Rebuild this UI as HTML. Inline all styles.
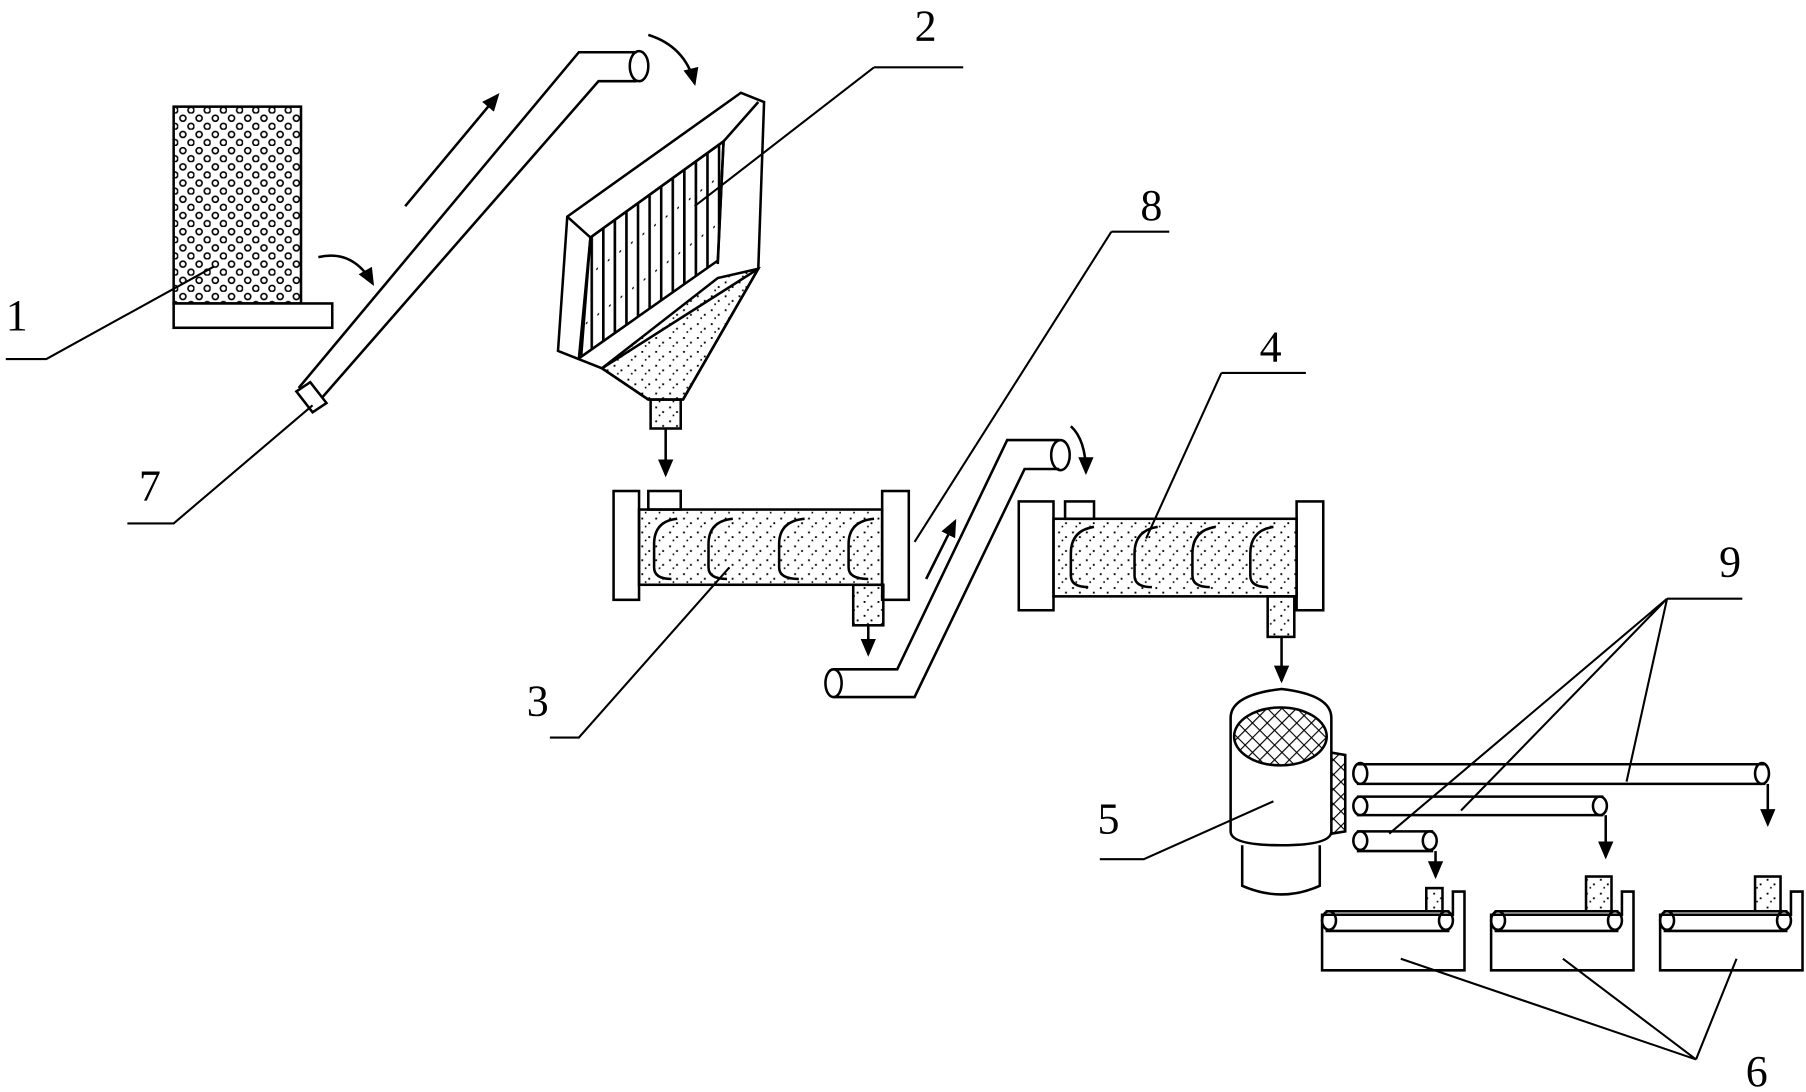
<!DOCTYPE html>
<html><head><meta charset="utf-8"><style>
html,body{margin:0;padding:0;background:#fff;width:1806px;height:1092px;overflow:hidden}
svg{display:block}
text{font-family:"Liberation Serif",serif;font-size:38px;fill:#000}
</style></head><body>
<svg width="1806" height="1092" viewBox="0 0 1560 943" xmlns="http://www.w3.org/2000/svg">
<defs>
<pattern id="dots" width="14" height="14" patternUnits="userSpaceOnUse">
<circle cx="4" cy="4" r="2.6" fill="none" stroke="#000" stroke-width="1.4"/>
<circle cx="11" cy="11" r="2.6" fill="none" stroke="#000" stroke-width="1.4"/>
</pattern>
<pattern id="sand" width="12" height="12" patternUnits="userSpaceOnUse">
<rect x="2" y="3" width="1.6" height="1.6"/><rect x="8" y="7" width="1.6" height="1.6"/><rect x="5" y="10" width="1.4" height="1.4"/>
</pattern>
<pattern id="mesh" width="9" height="9" patternUnits="userSpaceOnUse" patternTransform="rotate(45)">
<path d="M0 0H9M0 0V9" stroke="#000" stroke-width="2"/>
</pattern>
<pattern id="screen" width="10" height="200" patternUnits="userSpaceOnUse" patternTransform="skewY(-37)">
<path d="M1 0V200" stroke="#000" stroke-width="2.5"/><rect x="5" y="20" width="1.5" height="1.5"/><rect x="6" y="60" width="1.5" height="1.5"/>
</pattern>
<marker id="ah" markerWidth="8" markerHeight="8" refX="6" refY="4" orient="auto"><path d="M0 1L7 4L0 7z"/></marker>
</defs>
<g fill="none" stroke="#000" stroke-width="2.2">
<rect x="150" y="92" width="110" height="170" fill="url(#dots)"/>
<rect x="150" y="262" width="137" height="21" fill="#fff"/>
<path d="M5 310H40L185 230" stroke-width="1.8"/>
<path d="M258 335L500 45H550M275 347L517 70H550"/>
<ellipse cx="552" cy="57" rx="8" ry="13"/>
<path d="M256 338L268 330L282 348L270 356Z" fill="#fff"/>
<path d="M110 452H150L270 350" stroke-width="1.8"/>
<path d="M350 178L430 82" marker-end="url(#ah)"/>
<path d="M275 222Q305 215 322 245" marker-end="url(#ah)"/>
<path d="M560 30Q592 40 600 72" marker-end="url(#ah)"/>
<path d="M490 187L640 80L660 88L655 232L520 318L482 303Z" fill="#fff"/>
<path d="M490 187L510 205L500 310M510 205L625 122L655 88M620 228L625 122"/>
<path d="M510 205L625 122L620 225L502 308Z" fill="url(#screen)"/>
<path d="M520 318L620 240L655 232L590 345H560Z" fill="url(#sand)"/>
<path d="M520 318L560 345M655 232L590 345"/>
<rect x="562" y="345" width="26" height="25" fill="url(#sand)"/>
<path d="M755 58H832M755 58L600 178" stroke-width="1.8"/>
<path d="M575 370V410" marker-end="url(#ah)"/>
<rect x="530" y="424" width="22" height="94" fill="#fff"/>
<rect x="762" y="424" width="23" height="94" fill="#fff"/>
<rect x="552" y="440" width="210" height="65" fill="url(#sand)"/>
<rect x="560" y="424" width="28" height="16"/>
<rect x="737" y="505" width="26" height="35" fill="url(#sand)"/>
<path d="M750 540V565" marker-end="url(#ah)"/>
<path d="M585 448Q565 450 565 470V490Q565 500 580 500M633 448Q612 450 612 470V490Q612 500 628 500M695 448Q673 450 673 470V490Q673 500 690 500M755 448Q733 450 733 470V490Q733 500 750 500"/>
<path d="M475 637H500L630 490" stroke-width="1.8"/>
<path d="M720 578H775L870 380H915M720 602H790L885 405H915"/>
<ellipse cx="720" cy="590" rx="7" ry="12" fill="#fff"/>
<ellipse cx="916" cy="393" rx="8" ry="13"/>
<path d="M800 500L825 450" marker-end="url(#ah)"/>
<path d="M925 368Q938 380 938 408" marker-end="url(#ah)"/>
<path d="M960 200H1010M960 200L790 468" stroke-width="1.8"/>
<rect x="880" y="433" width="30" height="94" fill="#fff"/>
<rect x="1120" y="433" width="23" height="94" fill="#fff"/>
<rect x="910" y="448" width="210" height="67" fill="url(#sand)"/>
<rect x="920" y="433" width="25" height="15"/>
<rect x="1095" y="515" width="23" height="35" fill="url(#sand)"/>
<path d="M1107 550V588" marker-end="url(#ah)"/>
<path d="M945 455Q925 458 925 478V497Q925 507 940 507M1000 455Q980 458 980 478V497Q980 507 995 507M1050 455Q1030 458 1030 478V497Q1030 507 1045 507M1100 455Q1080 458 1080 478V497Q1080 507 1095 507"/>
<path d="M1055 322H1128M1055 322L990 465" stroke-width="1.8"/>
<path d="M1063 620Q1063 600 1107 595Q1150 600 1150 620V718Q1150 730 1107 730Q1063 730 1063 718Z" fill="#fff"/>
<ellipse cx="1106" cy="636" rx="40" ry="25" fill="url(#mesh)"/>
<path d="M1073 730V765Q1107 780 1140 765V730"/>
<path d="M1150 650L1162 652V718L1150 720" fill="url(#mesh)"/>
<path d="M950 742H988L1100 692" stroke-width="1.8"/>
<path d="M1172 660H1525M1172 677H1525"/><ellipse cx="1175" cy="668" rx="6" ry="9"/><ellipse cx="1522" cy="668" rx="6" ry="9"/>
<path d="M1172 688H1385M1172 704H1385"/><ellipse cx="1175" cy="696" rx="6" ry="8"/><ellipse cx="1382" cy="696" rx="6" ry="8"/>
<path d="M1172 718H1238M1172 735H1238"/><ellipse cx="1175" cy="726" rx="6" ry="8"/><ellipse cx="1235" cy="726" rx="6" ry="8"/>
<path d="M1527 677V712" marker-end="url(#ah)"/>
<path d="M1387 704V740" marker-end="url(#ah)"/>
<path d="M1240 735V757" marker-end="url(#ah)"/>
<path d="M1440 517H1505M1440 517L1405 675M1440 517L1262 700M1440 517L1200 720" stroke-width="1.8"/>
<g id="c">
<path d="M1142 790V838H1265V770H1255V790Z" fill="#fff"/>
<path d="M1145 787H1252M1145 804H1252"/><ellipse cx="1148" cy="795" rx="6" ry="8"/><ellipse cx="1249" cy="795" rx="6" ry="8"/>
</g>
<use href="#c" x="146"/><use href="#c" x="292"/>
<rect x="1232" y="767" width="14" height="20" fill="url(#sand)"/>
<rect x="1370" y="757" width="22" height="30" fill="url(#sand)"/>
<rect x="1516" y="757" width="22" height="30" fill="url(#sand)"/>
<path d="M1465 915L1210 828M1465 915L1350 828M1465 915L1500 828" stroke-width="1.8"/>
</g>
<text x="5" y="285">1</text>
<text x="790" y="35">2</text>
<text x="985" y="190">8</text>
<text x="1088" y="312">4</text>
<text x="455" y="618">3</text>
<text x="120" y="432">7</text>
<text x="948" y="720">5</text>
<text x="1485" y="498">9</text>
<text x="1508" y="938">6</text>
</svg>
</body></html>
